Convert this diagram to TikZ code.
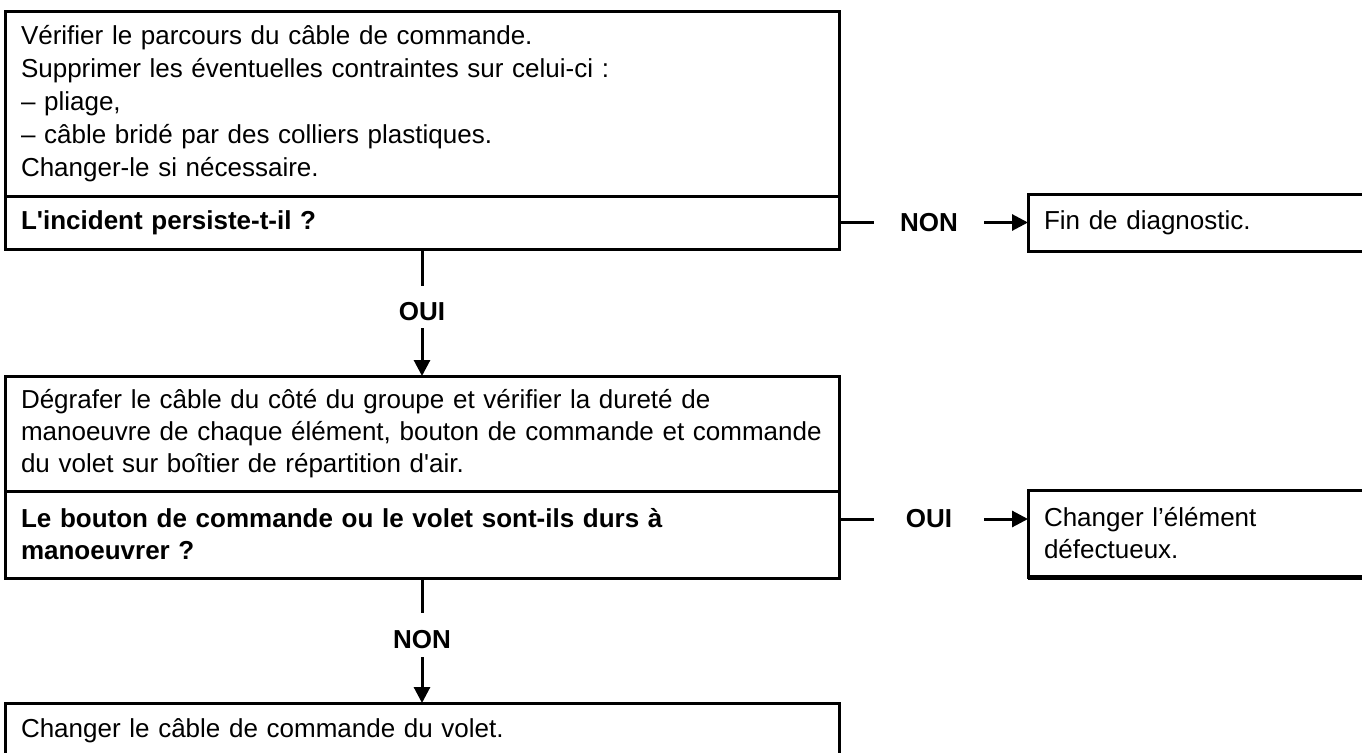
\documentclass[tikz,border=0pt]{standalone}
\usepackage{fontspec}
\setmainfont{Liberation Sans}
\usetikzlibrary{arrows.meta}
\begin{document}
\begin{tikzpicture}[x=1pt,y=-1pt,
  every node/.style={font=\fontsize{26}{32}\selectfont},
  part/.style={draw, line width=3pt, rectangle, inner ysep=0pt, inner xsep=16pt,
    outer sep=0pt, anchor=north west, align=left, minimum width=834pt, text width=802pt},
  side/.style={draw, line width=3pt, rectangle, inner ysep=0pt, inner xsep=16pt,
    outer sep=0pt, anchor=north west, align=left, minimum width=400pt, text width=368pt},
  lbl/.style={inner sep=0pt, font=\fontsize{26}{32}\selectfont\bfseries},
  conn/.style={line width=3pt},
  arr/.style={line width=3pt, -{Triangle[width=16pt,length=16pt]}}
]
\useasboundingbox (0,0) rectangle (1362,752);
\clip (0,0) rectangle (1362,752);

% first check
\node[part, minimum height=184pt, font=\fontsize{26}{33}\selectfont] (s1) at (5,12) {Vérifier le parcours du câble de commande.\\
Supprimer les éventuelles contraintes sur celui-ci :\\
– pliage,\\
– câble bridé par des colliers plastiques.\\
Changer-le si nécessaire.};
\node[part, minimum height=53pt, font=\fontsize{26}{32}\selectfont\bfseries] (q1) at (5,196) {L\textquotesingle incident persiste-t-il ?};

\node[side, minimum height=57pt] (fin) at (1028,194) {Fin de diagnostic.};
\node[lbl, minimum width=110pt] (non1) at (929,222.5) {NON};
\draw[conn] (q1.east) -- (non1.west);
\draw[arr] (non1.east) -- (fin.west);

\coordinate (c1a) at (422,286);
\node[lbl] (oui1) at (422,312) {OUI};
\coordinate (c1b) at (422,328);
\draw[conn] (q1.south) -- (c1a);

% second check
\node[part, minimum height=115pt] (s2) at (5,376) {Dégrafer le câble du côté du groupe et vérifier la dureté de\\
manoeuvre de chaque élément, bouton de commande et commande\\
du volet sur boîtier de répartition d\textquotesingle air.};
\node[part, minimum height=87pt, font=\fontsize{26}{32}\selectfont\bfseries] (q2) at (5,491) {Le bouton de commande ou le volet sont-ils durs à\\
manoeuvrer ?};
\draw[arr] (c1b) -- (s2.north);

\node[side, minimum height=87pt] (chg) at (1028,490) {Changer l’élément\\
défectueux.};
\draw[line width=5pt] (chg.south west) -- (chg.south east);
\node[lbl, minimum width=110pt] (oui2) at (929,519) {OUI};
\draw[conn] (q2.east |- oui2.west) -- (oui2.west);
\draw[arr] (oui2.east) -- (chg.west |- oui2.east);

\coordinate (c2a) at (422,613);
\node[lbl] (non2) at (422,640) {NON};
\coordinate (c2b) at (422,657);
\draw[conn] (q2.south) -- (c2a);

% final action
\node[part, minimum height=56pt] (s3) at (5,703) {Changer le câble de commande du volet.};
\draw[arr] (c2b) -- (s3.north);
\end{tikzpicture}
\end{document}
